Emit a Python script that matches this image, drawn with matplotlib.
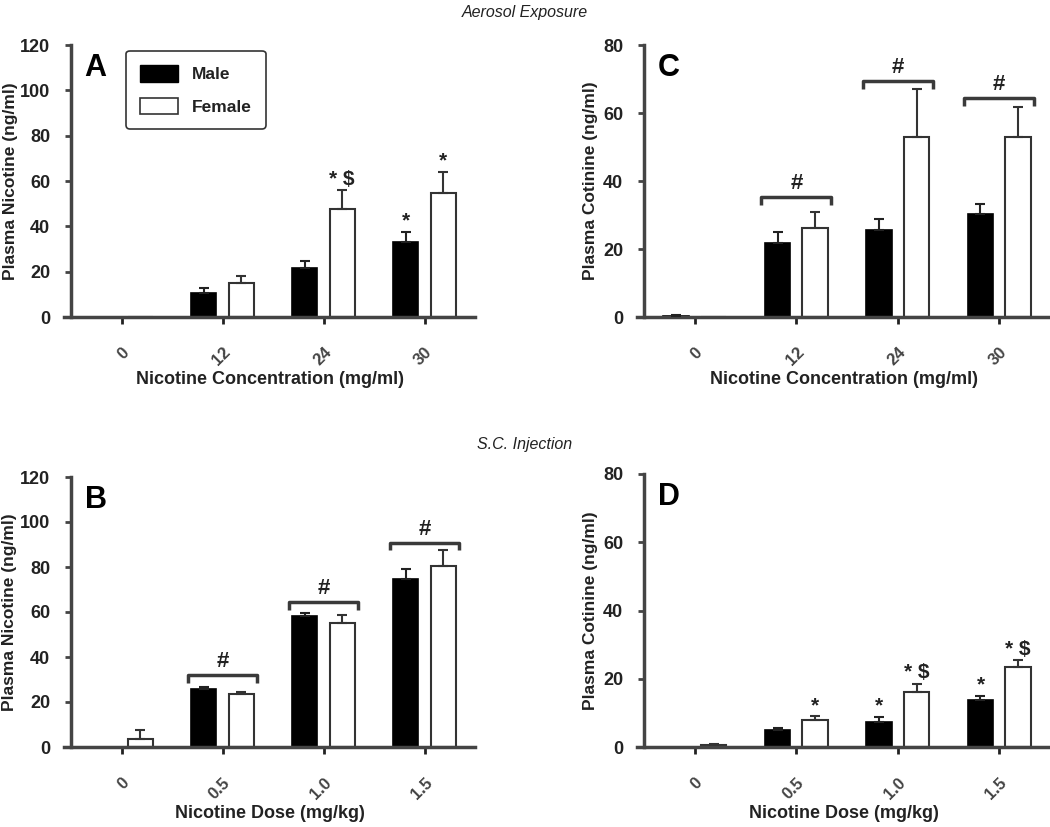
import numpy as np
import matplotlib
matplotlib.use("Agg")
import matplotlib.pyplot as plt
from matplotlib.patches import Patch

plt.rcParams['font.family'] = ['Liberation Sans', 'DejaVu Sans']

# Data
conc_labels = ["0", "12", "24", "30"]
dose_labels = ["0", "0.5", "1.0", "1.5"]

# A: plasma nicotine after aerosol exposure
a_male = [0, 10.4, 21.5, 32.9]
a_male_err = [0, 2.2, 3.4, 4.6]
a_female = [0, 14.8, 47.7, 54.8]
a_female_err = [0, 3.3, 8.3, 9.2]
a_marks_male = ["", "", "", "*"]
a_marks_female = ["", "", "* $", "*"]

# C: plasma cotinine after aerosol exposure
c_male = [0.3, 21.8, 25.6, 30.2]
c_male_err = [0.4, 3.2, 3.2, 3.0]
c_female = [0, 26.2, 52.9, 52.9]
c_female_err = [0, 4.8, 14.3, 9.0]
c_brackets = [None, 35.3, 69.4, 64.4]

# B: plasma nicotine after s.c. injection
b_male = [0, 25.9, 58.2, 74.5]
b_male_err = [0, 0.8, 1.5, 4.8]
b_female = [3.7, 23.4, 55.3, 80.4]
b_female_err = [3.7, 0.9, 3.5, 7.0]
b_brackets = [None, 31.9, 64.4, 90.7]

# D: plasma cotinine after s.c. injection
d_male = [0, 5.1, 7.4, 13.9]
d_male_err = [0, 0.6, 1.4, 1.0]
d_female = [0.6, 7.8, 16.2, 23.5]
d_female_err = [0.4, 1.2, 2.4, 2.0]
d_marks_male = ["", "", "*", "*"]
d_marks_female = ["", "*", "* $", "* $"]

W, H = 1050, 827
fig = plt.figure(figsize=(W / 100, H / 100), dpi=100)


def px_axes(x0, ytop, x1, ybot):
    return fig.add_axes([x0 / W, (H - ybot) / H, (x1 - x0) / W, (ybot - ytop) / H])


axis_col = "#444444"
text_col = "#222222"
bw = 0.25
off = 0.185


def panel(ax, male, male_err, female, female_err, labels, ymax, ystep,
          ylabel, xlabel, letter, label_x, marks_m=None, marks_f=None,
          brackets=None, xlabelpad=2):
    x = np.arange(len(labels))
    ax.bar(x - off, male, bw, color="black", edgecolor="black", lw=1.2, zorder=2)
    ax.bar(x + off, female, bw, color="white", edgecolor="#333333", lw=1.5, zorder=2)
    for xs, vals, errs, col in [(x - off, male, male_err, "#222222"),
                                (x + off, female, female_err, "#333333")]:
        for xi, v, e in zip(xs, vals, errs):
            if e > 0:
                ax.errorbar(xi, v, yerr=[[0], [e]], fmt="none", ecolor=col,
                            elinewidth=1.5, capsize=3.5, capthick=1.5, zorder=3)
    for xs, vals, errs, marks in [(x - off, male, male_err, marks_m),
                                  (x + off, female, female_err, marks_f)]:
        if not marks:
            continue
        for xi, v, e, m in zip(xs, vals, errs, marks):
            if m:
                ax.annotate(m, (xi, v + e), xytext=(0, 1),
                            textcoords="offset points", ha="center",
                            va="bottom", fontsize=15, fontweight="bold",
                            color=text_col)
    if brackets:
        tick = ymax * 0.028
        for xi, yb in zip(x, brackets):
            if yb is None:
                continue
            ax.plot([xi - 0.345, xi - 0.345, xi + 0.345, xi + 0.345],
                    [yb - tick, yb, yb, yb - tick], color="#3a3a3a", lw=2.5,
                    solid_capstyle="butt", zorder=3)
            ax.text(xi, yb + ymax * 0.012, "#", ha="center", va="bottom",
                    fontsize=16, fontweight="bold", color=text_col)

    ax.set_xlim(-0.57, 3.5)
    ax.set_ylim(0, ymax)
    ax.set_yticks(np.arange(0, ymax + 1, ystep))
    ax.set_xticks(x)
    ax.set_xticklabels(labels, rotation=45, ha="right", va="top",
                       rotation_mode="anchor", fontsize=12, fontweight="bold",
                       color="#444444")
    for s in ["top", "right"]:
        ax.spines[s].set_visible(False)
    ax.spines["left"].set_position(("data", -0.5))
    for s in ["left", "bottom"]:
        ax.spines[s].set_color(axis_col)
        ax.spines[s].set_linewidth(2.5)
    ax.tick_params(axis="y", length=4, width=2, color=axis_col, pad=11,
                   labelsize=13, labelcolor=text_col)
    ax.tick_params(axis="x", length=5, width=2, color="#222222", pad=15)
    for t in ax.get_yticklabels():
        t.set_fontweight("bold")
    ax.set_ylabel(ylabel, fontsize=12.5, fontweight="bold", color=text_col)
    ax.yaxis.set_label_coords(label_x, 0.5)
    ax.set_xlabel(xlabel, fontsize=13, fontweight="bold", color=text_col,
                  labelpad=xlabelpad)
    ax.text(0.05, 0.97, letter, transform=ax.transAxes, fontsize=22,
            fontweight="bold", va="top", ha="left", color="black")


axA = px_axes(64, 45, 475, 317)
panel(axA, a_male, a_male_err, a_female, a_female_err, conc_labels, 120, 20,
      "Plasma Nicotine (ng/ml)", "Nicotine Concentration (mg/ml)", "A", -0.112,
      marks_m=a_marks_male, marks_f=a_marks_female)

axC = px_axes(637, 45, 1050, 317)
panel(axC, c_male, c_male_err, c_female, c_female_err, conc_labels, 80, 20,
      "Plasma Cotinine (ng/ml)", "Nicotine Concentration (mg/ml)", "C", -0.095,
      brackets=c_brackets)

axB = px_axes(64, 477, 475, 747)
panel(axB, b_male, b_male_err, b_female, b_female_err, dose_labels, 120, 20,
      "Plasma Nicotine (ng/ml)", "Nicotine Dose (mg/kg)", "B", -0.115,
      brackets=b_brackets, xlabelpad=2)

axD = px_axes(637, 474, 1050, 747)
panel(axD, d_male, d_male_err, d_female, d_female_err, dose_labels, 80, 20,
      "Plasma Cotinine (ng/ml)", "Nicotine Dose (mg/kg)", "D", -0.095,
      marks_m=d_marks_male, marks_f=d_marks_female, xlabelpad=2)

# legend in panel A
handles = [Patch(facecolor="black", edgecolor="black", label="Male"),
           Patch(facecolor="white", edgecolor="#333333", lw=1.2, label="Female")]
leg = axA.legend(handles=handles, loc="upper left", bbox_to_anchor=(0.13, 1.01),
                 prop={"weight": "bold", "size": 12.5}, fancybox=True,
                 edgecolor="#333333", framealpha=1, handlelength=2.2,
                 handleheight=1.1, borderpad=0.8, labelspacing=0.9)
leg.get_frame().set_linewidth(1.2)
for t in leg.get_texts():
    t.set_color(text_col)

fig.text(525 / W, 1 - 12 / H, "Aerosol Exposure", ha="center", va="center",
         fontsize=11.5, style="italic", color=text_col)
fig.text(525 / W, 1 - 445 / H, "S.C. Injection", ha="center", va="center",
         fontsize=11.5, style="italic", color=text_col)

fig.savefig("out.png", dpi=100)
